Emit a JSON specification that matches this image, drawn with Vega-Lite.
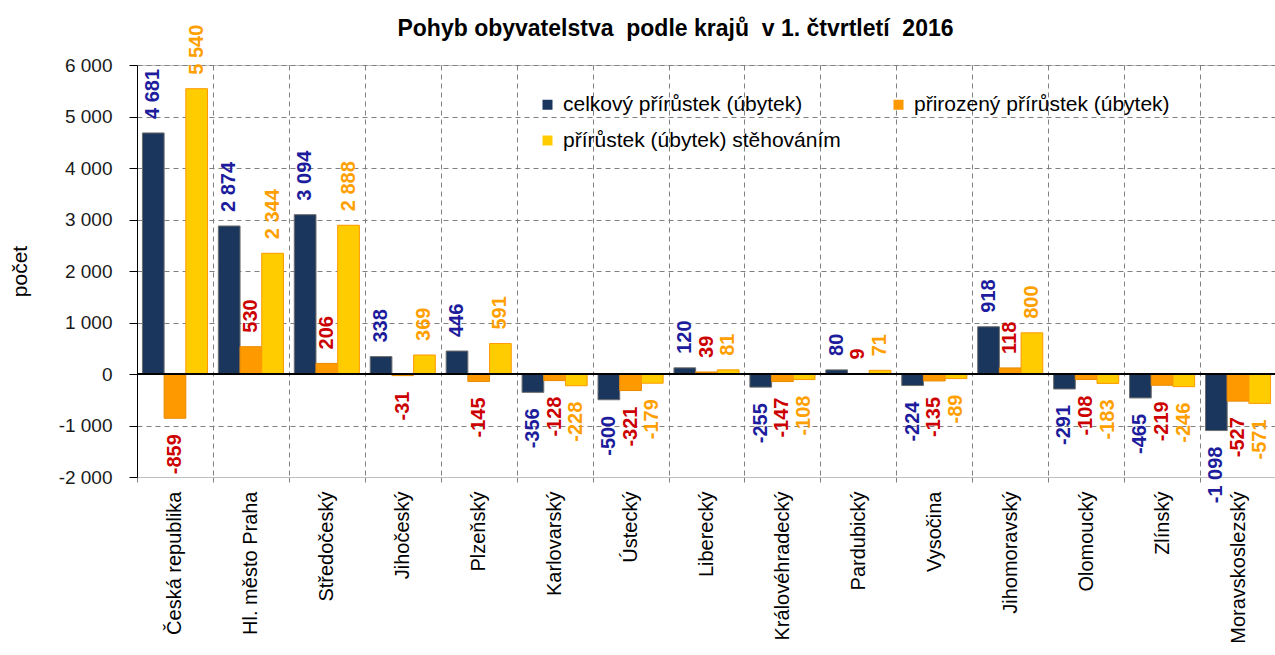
{
  "$schema": "https://vega.github.io/schema/vega-lite/v6.json",
  "width": 1139,
  "height": 412,
  "autosize": {"type": "none"},
  "padding": {"left": 137, "top": 65, "right": 0, "bottom": 178},
  "config": {
    "locale": {"number": {"decimal": ",", "thousands": "\u00a0", "grouping": [3], "currency": ["", " Kč"], "minus": "-"}},
    "view": {"stroke": "#bfbfbf"},
    "font": "Liberation Sans"
  },
  "title": {
    "text": "Pohyb obyvatelstva \u00a0podle krajů \u00a0v 1. čtvrtletí \u00a02016",
    "font": "Liberation Sans",
    "fontSize": 23,
    "fontWeight": "bold",
    "color": "#000000",
    "frame": "group",
    "anchor": "middle",
    "dx": -31,
    "offset": -16
  },
  "data": {
    "values": [
      {"kraj": "Česká republika", "serie": "celkový přírůstek (úbytek)", "hodnota": 4681},
      {"kraj": "Česká republika", "serie": "přirozený přírůstek (úbytek)", "hodnota": -859},
      {"kraj": "Česká republika", "serie": "přírůstek (úbytek) stěhováním", "hodnota": 5540},
      {"kraj": "Hl. město Praha", "serie": "celkový přírůstek (úbytek)", "hodnota": 2874},
      {"kraj": "Hl. město Praha", "serie": "přirozený přírůstek (úbytek)", "hodnota": 530},
      {"kraj": "Hl. město Praha", "serie": "přírůstek (úbytek) stěhováním", "hodnota": 2344},
      {"kraj": "Středočeský", "serie": "celkový přírůstek (úbytek)", "hodnota": 3094},
      {"kraj": "Středočeský", "serie": "přirozený přírůstek (úbytek)", "hodnota": 206},
      {"kraj": "Středočeský", "serie": "přírůstek (úbytek) stěhováním", "hodnota": 2888},
      {"kraj": "Jihočeský", "serie": "celkový přírůstek (úbytek)", "hodnota": 338},
      {"kraj": "Jihočeský", "serie": "přirozený přírůstek (úbytek)", "hodnota": -31},
      {"kraj": "Jihočeský", "serie": "přírůstek (úbytek) stěhováním", "hodnota": 369},
      {"kraj": "Plzeňský", "serie": "celkový přírůstek (úbytek)", "hodnota": 446},
      {"kraj": "Plzeňský", "serie": "přirozený přírůstek (úbytek)", "hodnota": -145},
      {"kraj": "Plzeňský", "serie": "přírůstek (úbytek) stěhováním", "hodnota": 591},
      {"kraj": "Karlovarský", "serie": "celkový přírůstek (úbytek)", "hodnota": -356},
      {"kraj": "Karlovarský", "serie": "přirozený přírůstek (úbytek)", "hodnota": -128},
      {"kraj": "Karlovarský", "serie": "přírůstek (úbytek) stěhováním", "hodnota": -228},
      {"kraj": "Ústecký", "serie": "celkový přírůstek (úbytek)", "hodnota": -500},
      {"kraj": "Ústecký", "serie": "přirozený přírůstek (úbytek)", "hodnota": -321},
      {"kraj": "Ústecký", "serie": "přírůstek (úbytek) stěhováním", "hodnota": -179},
      {"kraj": "Liberecký", "serie": "celkový přírůstek (úbytek)", "hodnota": 120},
      {"kraj": "Liberecký", "serie": "přirozený přírůstek (úbytek)", "hodnota": 39},
      {"kraj": "Liberecký", "serie": "přírůstek (úbytek) stěhováním", "hodnota": 81},
      {"kraj": "Královéhradecký", "serie": "celkový přírůstek (úbytek)", "hodnota": -255},
      {"kraj": "Královéhradecký", "serie": "přirozený přírůstek (úbytek)", "hodnota": -147},
      {"kraj": "Královéhradecký", "serie": "přírůstek (úbytek) stěhováním", "hodnota": -108},
      {"kraj": "Pardubický", "serie": "celkový přírůstek (úbytek)", "hodnota": 80},
      {"kraj": "Pardubický", "serie": "přirozený přírůstek (úbytek)", "hodnota": 9},
      {"kraj": "Pardubický", "serie": "přírůstek (úbytek) stěhováním", "hodnota": 71},
      {"kraj": "Vysočina", "serie": "celkový přírůstek (úbytek)", "hodnota": -224},
      {"kraj": "Vysočina", "serie": "přirozený přírůstek (úbytek)", "hodnota": -135},
      {"kraj": "Vysočina", "serie": "přírůstek (úbytek) stěhováním", "hodnota": -89},
      {"kraj": "Jihomoravský", "serie": "celkový přírůstek (úbytek)", "hodnota": 918},
      {"kraj": "Jihomoravský", "serie": "přirozený přírůstek (úbytek)", "hodnota": 118},
      {"kraj": "Jihomoravský", "serie": "přírůstek (úbytek) stěhováním", "hodnota": 800},
      {"kraj": "Olomoucký", "serie": "celkový přírůstek (úbytek)", "hodnota": -291},
      {"kraj": "Olomoucký", "serie": "přirozený přírůstek (úbytek)", "hodnota": -108},
      {"kraj": "Olomoucký", "serie": "přírůstek (úbytek) stěhováním", "hodnota": -183},
      {"kraj": "Zlínský", "serie": "celkový přírůstek (úbytek)", "hodnota": -465},
      {"kraj": "Zlínský", "serie": "přirozený přírůstek (úbytek)", "hodnota": -219},
      {"kraj": "Zlínský", "serie": "přírůstek (úbytek) stěhováním", "hodnota": -246},
      {"kraj": "Moravskoslezský", "serie": "celkový přírůstek (úbytek)", "hodnota": -1098},
      {"kraj": "Moravskoslezský", "serie": "přirozený přírůstek (úbytek)", "hodnota": -527},
      {"kraj": "Moravskoslezský", "serie": "přírůstek (úbytek) stěhováním", "hodnota": -571}
    ]
  },
  "layer": [
    {
      "mark": {"type": "bar", "strokeWidth": 1},
      "encoding": {
        "x": {
          "field": "kraj", "type": "nominal", "sort": null,
          "scale": {"paddingInner": 0, "paddingOuter": 0},
          "axis": {
            "title": null, "labelAngle": -90, "labelFont": "Liberation Sans", "labelFontSize": 20, "labelColor": "#000000",
            "labelPadding": 9, "labelLimit": 300, "tickBand": "extent", "tickSize": 5, "tickColor": "#808080",
            "domainColor": "#bfbfbf", "grid": true, "gridDash": [5, 4], "gridColor": "#808080", "gridWidth": 1
          }
        },
        "xOffset": {
          "field": "serie", "type": "nominal",
          "sort": ["celkový přírůstek (úbytek)", "přirozený přírůstek (úbytek)", "přírůstek (úbytek) stěhováním"],
          "scale": {"paddingInner": 0, "paddingOuter": 0.25}
        },
        "y": {
          "field": "hodnota", "type": "quantitative",
          "scale": {"domain": [-2000, 6000], "nice": false, "zero": false},
          "axis": {
            "values": [-2000, -1000, 0, 1000, 2000, 3000, 4000, 5000, 6000],
            "format": ",d", "labelFont": "Liberation Sans", "labelFontSize": 19, "labelColor": "#1a1a1a",
            "labelPadding": 17, "tickSize": 8, "tickColor": "#000000", "domainColor": "#000000",
            "grid": true, "gridDash": [5, 4], "gridColor": "#808080", "gridWidth": 1,
            "title": "počet", "titleFont": "Liberation Sans", "titleFontSize": 21, "titleFontWeight": "normal",
            "titleColor": "#000000", "titleAngle": -90, "titleX": -117, "titleY": 206, "titleAlign": "center", "titleBaseline": "middle"
          }
        },
        "color": {
          "field": "serie", "type": "nominal",
          "scale": {
            "domain": ["celkový přírůstek (úbytek)", "přirozený přírůstek (úbytek)", "přírůstek (úbytek) stěhováním"],
            "range": ["#1b365d", "#ff9900", "#ffcc00"]
          },
          "legend": {
            "title": null, "orient": "none", "legendX": 400, "legendY": 29, "direction": "horizontal", "columns": 2,
            "columnPadding": 47, "rowPadding": 14, "symbolType": "square", "symbolSize": 100, "symbolStrokeWidth": 0,
            "labelFont": "Liberation Sans", "labelFontSize": 21, "labelColor": "#000000", "labelLimit": 400, "labelOffset": 5
          }
        },
        "stroke": {
          "field": "serie", "type": "nominal",
          "scale": {
            "domain": ["celkový přírůstek (úbytek)", "přirozený přírůstek (úbytek)", "přírůstek (úbytek) stěhováním"],
            "range": ["#6d6d6d", "#e88a00", "#ff9900"]
          },
          "legend": null
        }
      }
    },
    {
      "mark": {"type": "rule", "color": "#000000", "strokeWidth": 1.5},
      "encoding": {"y": {"datum": 0}}
    },
    {
      "transform": [{"filter": "datum.hodnota >= 0"}],
      "mark": {"type": "text", "angle": 270, "align": "left", "baseline": "middle", "dx": 14, "font": "Liberation Sans Narrow, Liberation Sans", "fontSize": 20, "fontWeight": "bold"},
      "encoding": {
        "x": {"field": "kraj", "type": "nominal", "sort": null},
        "xOffset": {"field": "serie", "type": "nominal", "sort": ["celkový přírůstek (úbytek)", "přirozený přírůstek (úbytek)", "přírůstek (úbytek) stěhováním"]},
        "y": {"field": "hodnota", "type": "quantitative"},
        "text": {"field": "hodnota", "type": "quantitative", "format": ",d"},
        "color": {
          "field": "serie", "type": "nominal",
          "scale": {
            "domain": ["celkový přírůstek (úbytek)", "přirozený přírůstek (úbytek)", "přírůstek (úbytek) stěhováním"],
            "range": ["#1c1c9c", "#cc0000", "#ff9f00"]
          },
          "legend": null
        }
      }
    },
    {
      "transform": [{"filter": "datum.hodnota < 0"}],
      "mark": {"type": "text", "angle": 270, "align": "right", "baseline": "middle", "dx": -16, "font": "Liberation Sans Narrow, Liberation Sans", "fontSize": 20, "fontWeight": "bold"},
      "encoding": {
        "x": {"field": "kraj", "type": "nominal", "sort": null},
        "xOffset": {"field": "serie", "type": "nominal", "sort": ["celkový přírůstek (úbytek)", "přirozený přírůstek (úbytek)", "přírůstek (úbytek) stěhováním"]},
        "y": {"field": "hodnota", "type": "quantitative"},
        "text": {"field": "hodnota", "type": "quantitative", "format": ",d"},
        "color": {
          "field": "serie", "type": "nominal",
          "scale": {
            "domain": ["celkový přírůstek (úbytek)", "přirozený přírůstek (úbytek)", "přírůstek (úbytek) stěhováním"],
            "range": ["#1c1c9c", "#cc0000", "#ff9f00"]
          },
          "legend": null
        }
      }
    }
  ],
  "resolve": {"scale": {"color": "independent"}, "legend": {"color": "independent"}}
}
